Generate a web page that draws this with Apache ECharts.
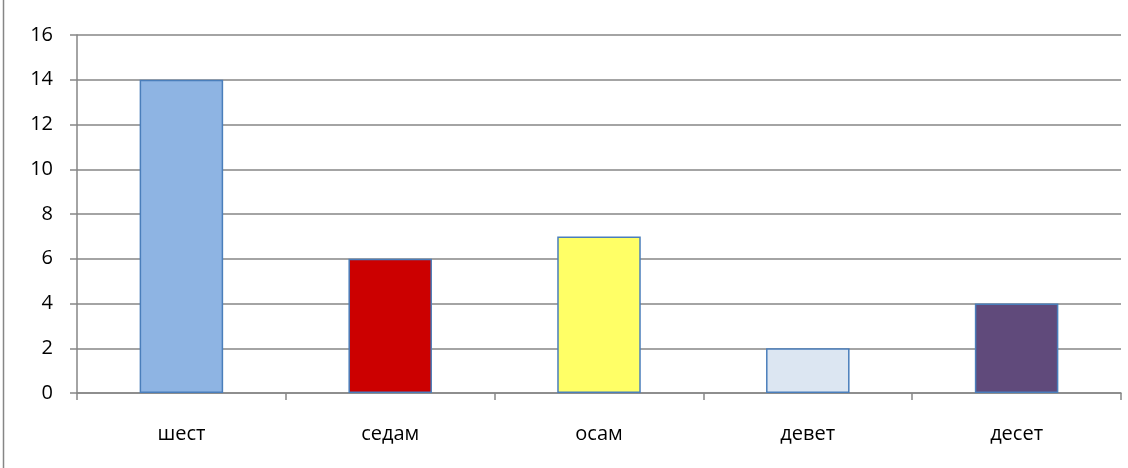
<!DOCTYPE html>
<html>
<head>
<meta charset="utf-8">
<script src="https://cdn.jsdelivr.net/npm/echarts@6/dist/echarts.min.js"></script>
<style>html,body{margin:0;padding:0;background:#fff}#c{width:1128px;height:468px}</style>
</head>
<body>
<div id="c"></div>
<script>
const categories = ['шест', 'седам', 'осам', 'девет', 'десет'];
const values = [14, 6, 7, 2, 4];
const barColors = ['#8eb4e3', '#cc0000', '#ffff66', '#dce6f2', '#604a7b'];
const yTicks = [0, 2, 4, 6, 8, 10, 12, 14, 16];

const chart = echarts.init(document.getElementById('c'));
chart.setOption({
  animation: false,
  backgroundColor: '#fff',
  textStyle: { fontFamily: 'Open Sans' },
  grid: { left: 77, right: 7, top: 35, bottom: 75 },
  xAxis: {
    type: 'category',
    data: categories,
    axisLine: { lineStyle: { color: '#868686', width: 1.5 } },
    axisTick: { show: true, length: 7, lineStyle: { color: '#868686', width: 1.5 } },
    axisLabel: { color: '#000', fontSize: 20, margin: 31 }
  },
  yAxis: {
    type: 'value',
    min: yTicks[0], max: yTicks[yTicks.length - 1], interval: 2,
    axisLine: { show: true, lineStyle: { color: '#868686', width: 1.5 } },
    axisTick: { show: true, length: 7, lineStyle: { color: '#868686', width: 1.5 } },
    axisLabel: { color: '#000', fontSize: 20, margin: 24 },
    splitLine: { lineStyle: { color: '#868686', width: 1.5 } }
  },
  graphic: [{
    type: 'line', shape: { x1: 3.5, y1: 0, x2: 3.5, y2: 468 },
    style: { stroke: '#868686', lineWidth: 1.5 }
  }],
  series: [{
    type: 'bar',
    barWidth: '40%',
    data: values.map((v, i) => ({ value: v, itemStyle: { color: barColors[i] } })),
    itemStyle: { borderColor: '#4a7ebb', borderWidth: 1.5 }
  }]
});
</script>
</body>
</html>
